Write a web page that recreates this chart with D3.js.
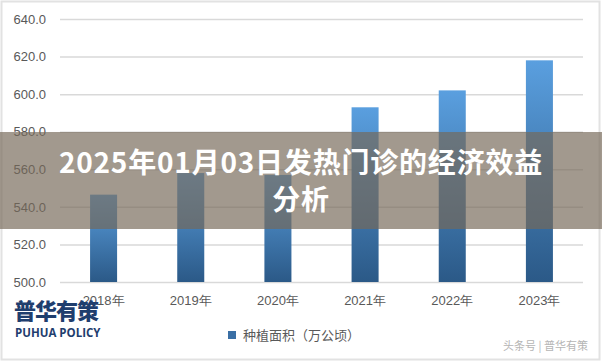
<!DOCTYPE html>
<html lang="zh">
<head>
<meta charset="UTF-8">
<script src="https://cdnjs.cloudflare.com/ajax/libs/d3/7.8.5/d3.min.js"></script>
<style>
    body { margin: 0; background: #fff; }
    svg { display: block; font-family: "Noto Sans CJK SC", "Noto Sans", sans-serif; }
</style>
</head>
<body>
<div id="chart"></div>
<script>
    // Data
    const years = ["2018年", "2019年", "2020年", "2021年", "2022年", "2023年"];
    const area = [546.5, 558, 557, 593, 602, 618];
    const yTicks = [500, 520, 540, 560, 580, 600, 620, 640];

    const W = 602, H = 362;
    const margin = { top: 19, right: 19, bottom: 80, left: 60 };

    const svg = d3.select("#chart").append("svg")
        .attr("width", W)
        .attr("height", H);

    // outer frame
    svg.append("rect")
        .attr("x", 1.5).attr("y", 1.5)
        .attr("width", W - 4).attr("height", H - 4)
        .attr("fill", "#fff")
        .attr("stroke", "#e2e2e2")
        .attr("stroke-width", 2);

    const x = d3.scaleBand()
        .domain(years)
        .range([margin.left, W - margin.right])
        .paddingInner(0.69)
        .paddingOuter(0.345);

    const y = d3.scaleLinear()
        .domain([500, 640])
        .range([H - margin.bottom, margin.top]);

    // gradient for bars
    const grad = svg.append("defs").append("linearGradient")
        .attr("id", "barGrad")
        .attr("x1", 0).attr("y1", 0).attr("x2", 0).attr("y2", 1);
    grad.append("stop").attr("offset", "0%").attr("stop-color", "#5a9fdf");
    grad.append("stop").attr("offset", "100%").attr("stop-color", "#2b5987");

    // grid + y labels
    const yAxis = svg.append("g")
        .attr("transform", `translate(${margin.left},0)`)
        .call(d3.axisLeft(y).tickValues(yTicks).tickFormat(d3.format(".1f"))
            .tickSize(-(W - margin.left - margin.right)).tickPadding(14));
    yAxis.select(".domain").remove();
    yAxis.selectAll(".tick line").attr("stroke", "#d9d9d9").attr("stroke-width", 1.5);
    yAxis.selectAll(".tick text").attr("fill", "#595959").attr("font-size", 13);

    // bars
    svg.append("g").selectAll("rect")
        .data(area)
        .join("rect")
        .attr("x", (d, i) => x(years[i]))
        .attr("y", d => y(d))
        .attr("width", x.bandwidth())
        .attr("height", d => y(500) - y(d))
        .attr("fill", "url(#barGrad)");

    // x labels
    const xAxis = svg.append("g")
        .attr("transform", `translate(0,${H - margin.bottom})`)
        .call(d3.axisBottom(x).tickSize(0).tickPadding(14));
    xAxis.select(".domain").remove();
    xAxis.selectAll(".tick text").attr("fill", "#595959").attr("font-size", 13);

    // legend
    const legend = svg.append("g").attr("transform", "translate(228,331)");
    legend.append("rect")
        .attr("width", 8).attr("height", 8)
        .attr("fill", "#3a6fa5");
    legend.append("text")
        .attr("x", 15).attr("y", 8.5)
        .attr("font-size", 13)
        .attr("fill", "#595959")
        .text("种植面积（万公顷）");

    // logo
    svg.append("text")
        .attr("x", 14).attr("y", 319)
        .attr("font-size", 22)
        .attr("font-weight", 900)
        .attr("fill", "#1f3e6e")
        .attr("letter-spacing", -1)
        .text("普华有策");
    svg.append("text")
        .attr("x", 15).attr("y", 337)
        .attr("font-family", "Open Sans, sans-serif")
        .attr("font-size", 11.5)
        .attr("font-weight", 700)
        .attr("fill", "#1f3e6e")
        .text("PUHUA POLICY");

    // watermark
    svg.append("text")
        .attr("x", 588).attr("y", 350)
        .attr("text-anchor", "end")
        .attr("font-size", 11)
        .attr("fill", "#b5b5b5")
        .text("头条号 | 普华有策");

    // title band overlay
    svg.append("rect")
        .attr("x", 0).attr("y", 132)
        .attr("width", W).attr("height", 97)
        .attr("fill", "rgb(118,104,88)")
        .attr("fill-opacity", 0.68);

    const title = svg.append("g")
        .attr("text-anchor", "middle")
        .attr("font-size", 28)
        .attr("font-weight", 700)
        .attr("letter-spacing", 0.8)
        .attr("fill", "#fff");
    title.append("text").attr("x", W / 2).attr("y", 173).text("2025年01月03日发热门诊的经济效益");
    title.append("text").attr("x", W / 2).attr("y", 210).text("分析");
</script>
</body>
</html>
